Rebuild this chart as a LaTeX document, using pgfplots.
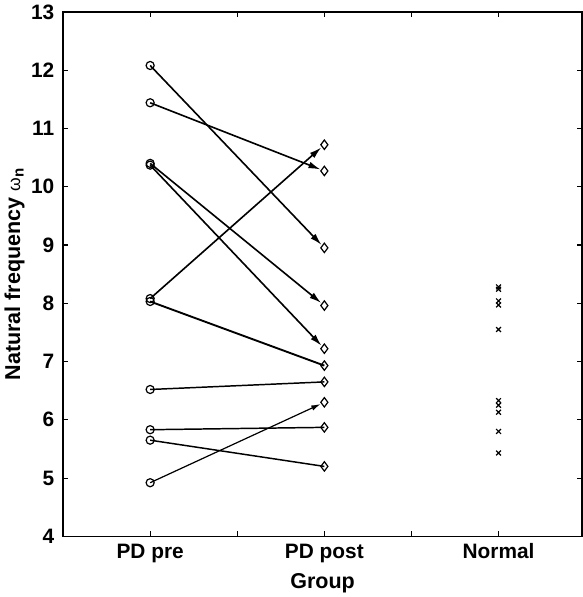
\documentclass[border=0pt]{standalone}
\usepackage{fontspec}
\setmainfont{Liberation Sans}
\usepackage{pgfplots}
\pgfplotsset{compat=1.18}
\usetikzlibrary{arrows.meta}

\begin{document}
\begin{tikzpicture}
\begin{axis}[
    width=386pt, height=390pt,
    scale only axis,
    xmin=0.5, xmax=3.48,
    ymin=4, ymax=13,
    xtick={1,1.5,2,2.5,3},
    xticklabels={PD pre,,PD post,,Normal},
    ytick={4,5,...,13},
    tick align=inside,
    major tick length=4pt,
    axis line style={line width=1pt},
    every tick/.style={black, line width=0.8pt},
    tick label style={font=\fontsize{15.5}{18}\selectfont\bfseries},
    yticklabel style={xshift=-3pt},
    xticklabel style={yshift=-2pt},
    /pgf/number format/assume math mode=true,
    xlabel={Group},
    ylabel={Natural frequency {\mdseries\fontsize{13}{15}\selectfont ω}\textsubscript{n}},
    label style={font=\fontsize{16}{19}\selectfont\bfseries},
    xlabel style={yshift=-1pt},
    ylabel style={yshift=-2pt},
    clip=false,
]
% paired lines PD pre -> PD post
\pgfplotsset{arr/.style={black, line width=1.2pt, -{Latex[length=9pt,width=5pt]}, shorten >=3pt},
             seg/.style={black, line width=1.1pt}}
\addplot[arr] coordinates {(1,12.08) (2,8.95)};
\addplot[arr] coordinates {(1,11.44) (2,10.27)};
\addplot[arr] coordinates {(1,10.40) (2,7.96)};
\addplot[arr] coordinates {(1,10.37) (2,7.22)};
\addplot[arr] coordinates {(1,8.08) (2,10.72)};
\addplot[seg, line width=1.4pt] coordinates {(1,8.03) (2,6.93)};
\addplot[seg] coordinates {(1,6.52) (2,6.65)};
\addplot[seg] coordinates {(1,5.83) (2,5.87)};
\addplot[seg] coordinates {(1,5.65) (2,5.20)};
\addplot[arr, line width=0.9pt, -{Latex[length=7pt,width=4pt]}] coordinates {(1,4.92) (2,6.30)};
% PD pre
\addplot[only marks, mark=o, mark size=3pt, line width=0.9pt, black, mark options={fill=white}] coordinates {
(1,12.08) (1,11.44) (1,10.40) (1,10.37) (1,8.08) (1,8.03) (1,6.52) (1,5.83) (1,5.65) (1,4.92)};
% PD post
\addplot[only marks, mark=diamond, mark size=3.5pt, line width=0.9pt, black, mark options={fill=white}] coordinates {
(2,10.72) (2,10.27) (2,8.95) (2,7.96) (2,7.22) (2,6.93) (2,6.65) (2,6.30) (2,5.87) (2,5.20)};
% Normal
\addplot[only marks, mark=x, mark size=2.5pt, line width=0.9pt, black] coordinates {
(3,8.28) (3,8.24) (3,8.04) (3,7.97) (3,7.55) (3,6.33) (3,6.25) (3,6.13) (3,5.80) (3,5.43)};
\end{axis}
\end{tikzpicture}
\end{document}
